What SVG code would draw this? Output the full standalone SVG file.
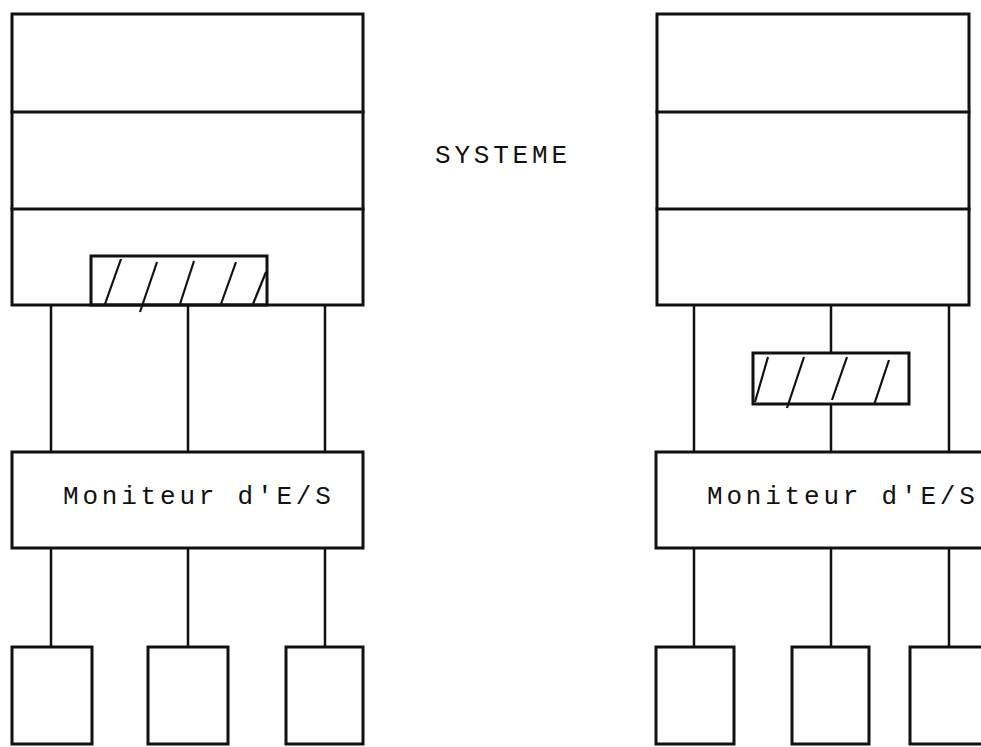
<svg xmlns="http://www.w3.org/2000/svg" width="981" height="747" viewBox="0 0 981 747">
<style>
.b{fill:none;stroke:#111;stroke-width:3;stroke-linecap:square}
.c{fill:none;stroke:#111;stroke-width:2.5}
.h{fill:none;stroke:#111;stroke-width:2.2}
.t{font-family:"Liberation Mono","DejaVu Sans Mono",monospace;font-size:26px;letter-spacing:3.8px;fill:#111}
</style>
<rect width="981" height="747" fill="#fff"/>
<text class="t" x="435" y="163">SYSTEME</text>

<g id="left-system">
<rect class="b" x="12" y="14" width="351" height="291"/>
<line class="b" x1="12" y1="112" x2="363" y2="112"/>
<line class="b" x1="12" y1="209" x2="363" y2="209"/>
</g>
<g id="left-buffer">
<rect class="b" x="91" y="256" width="176" height="49"/>
<path class="h" d="M105,304 L121,259 M140,312 L157,262 M180,304 L194,261 M221,304 L236,262 M253,304 L266,272"/>
</g>
<g id="left-monitor">
<rect class="b" x="12" y="452" width="351" height="96"/>
<text class="t" x="63" y="504">Moniteur d'E/S</text>
</g>
<g id="left-dev1"><rect class="b" x="12" y="647" width="80" height="97"/></g>
<g id="left-dev2"><rect class="b" x="148" y="647" width="80" height="97"/></g>
<g id="left-dev3"><rect class="b" x="286" y="647" width="77" height="97"/></g>

<g id="right-system">
<rect class="b" x="657" y="14" width="312" height="291"/>
<line class="b" x1="657" y1="112" x2="969" y2="112"/>
<line class="b" x1="657" y1="209" x2="969" y2="209"/>
</g>
<g id="right-buffer">
<rect class="b" x="753" y="353" width="156" height="51"/>
<path class="h" d="M755,402 L768,357 M787,408 L804,357 M832,400 L847,357 M874,405 L889,360"/>
</g>
<g id="right-monitor">
<rect class="b" x="656" y="452" width="340" height="96"/>
<text class="t" x="707" y="504">Moniteur d'E/S</text>
</g>
<g id="right-dev1"><rect class="b" x="656" y="647" width="78" height="97"/></g>
<g id="right-dev2"><rect class="b" x="792" y="647" width="77" height="97"/></g>
<g id="right-dev3"><rect class="b" x="910" y="647" width="90" height="97"/></g>

<g id="connectors">
<line class="c" x1="51" y1="305" x2="51" y2="452"/>
<line class="c" x1="188" y1="305" x2="188" y2="452"/>
<line class="c" x1="325" y1="305" x2="325" y2="452"/>
<line class="c" x1="51" y1="548" x2="51" y2="647"/>
<line class="c" x1="188" y1="548" x2="188" y2="647"/>
<line class="c" x1="325" y1="548" x2="325" y2="647"/>
<line class="c" x1="694" y1="305" x2="694" y2="452"/>
<line class="c" x1="831" y1="305" x2="831" y2="353"/>
<line class="c" x1="831" y1="404" x2="831" y2="452"/>
<line class="c" x1="949" y1="305" x2="949" y2="452"/>
<line class="c" x1="694" y1="548" x2="694" y2="647"/>
<line class="c" x1="831" y1="548" x2="831" y2="647"/>
<line class="c" x1="949" y1="548" x2="949" y2="647"/>
</g>
</svg>
